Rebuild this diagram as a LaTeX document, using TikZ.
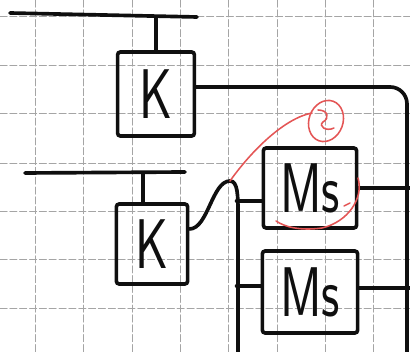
\documentclass[tikz,border=0pt]{standalone}
\usepackage{tikz}
\usetikzlibrary{positioning, calc}
\definecolor{gridline}{RGB}{165,165,165}
\definecolor{pen}{RGB}{15,15,15}
\definecolor{redpen}{RGB}{228,85,85}
\newcommand{\handtxt}[1]{\scalebox{0.72}[1]{\fontsize{50}{50}\selectfont #1}}

\begin{document}
\begin{tikzpicture}[x=0.025cm, y=-0.025cm, line cap=round, font=\sffamily,
  blk/.style={draw=pen, line width=2.6pt, rounded corners=2pt, inner sep=0pt, text=pen},
  wire/.style={draw=pen, line width=2.6pt},
  note/.style={draw=redpen, line width=1.1pt}]
  \useasboundingbox (0,0) rectangle (410,352);
  \fill[white] (0,0) rectangle (410,352);
  % grid paper
  \foreach \gx in {35,83,132,180,228,277,325,373}
    \draw[gridline, line width=0.7pt, dash pattern=on 5pt off 2pt] (\gx,0) -- (\gx,352);
  \foreach \gy in {16,65,113,163,211,259,308}
    \draw[gridline, line width=0.7pt, dash pattern=on 5pt off 2pt] (0,\gy) -- (410,\gy);

  % upper K
  \node[blk, minimum width=1.92cm, minimum height=2.1cm] (K1) at (156,94) {\handtxt{K}};
  % lower K
  \node[blk, minimum width=1.78cm, minimum height=2cm] (K2) at (152,244) {\handtxt{K}};
  % Ms blocks
  \node[blk, minimum width=2.33cm, minimum height=2cm] (Ms1) at (310,188) {\handtxt{Ms}};
  \node[blk, minimum width=2.38cm, minimum height=2.05cm] (Ms2) at (310,292) {\handtxt{Ms}};

  % upper bus
  \coordinate (busA) at (10,13);
  \coordinate (busB) at (197,17);
  \draw[wire] (busA) -- (busB);
  \draw[wire] (K1.north) -- (K1.north |- busB);
  \coordinate (outK) at (407,352);
  \draw[wire, rounded corners=12pt] ($(K1.east)+(0,-7)$) -- (outK |- 0,87) -- (outK);

  % lower bus
  \coordinate (busC) at (25,173);
  \coordinate (busD) at (185,172);
  \draw[wire] (busC) -- (busD);
  \coordinate (K2in) at ($(K2.north)+(-9,0)$);
  \draw[wire] (K2in) -- (K2in |- busC);

  % hop into the vertical line
  \coordinate (hop) at (230,181);
  \coordinate (busE) at (238,352);
  \draw[wire] ($(K2.east)+(0,-15)$) .. controls (208,229) and (212,181) .. (hop)
    .. controls (238,181) and (238,196) .. (238,215) -- (busE);
  \draw[wire] ($(Ms1.west)+(0,13)$) -- +(-25,0);
  \draw[wire] ($(Ms2.west)+(0,-6)$) -- +(-24,0);
  \draw[wire] (Ms1.east) -- +(55,0);
  \draw[wire] ($(Ms2.east)+(0,-4)$) -- +(55,0);

  % red marks
  \draw[note] (hop) .. controls (252,150) and (285,118) .. (312,113);
  \draw[note, rotate around={-20:(326,121)}] (326,121) ellipse (17 and 21);
  \draw[note] (318,110) .. controls (328,110) and (330,118) .. (323,122)
    .. controls (318,126) and (326,132) .. (334,128);
  \draw[note] (358,178) .. controls (364,198) and (348,222) .. (322,228)
    .. controls (300,231) and (285,227) .. (276,221);
  \draw[note] (344,206) -- (350,203);
\end{tikzpicture}
\end{document}
